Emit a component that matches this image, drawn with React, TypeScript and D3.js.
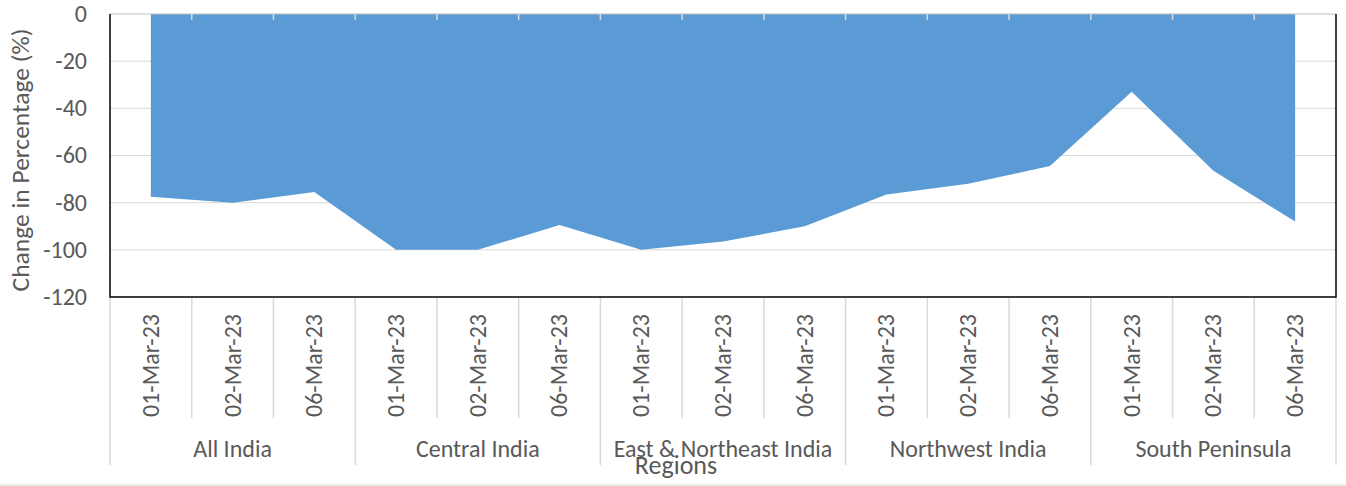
import React, { useRef, useEffect } from 'react';
import * as d3 from 'd3';

const regions: string[] = ['All India', 'Central India', 'East & Northeast India', 'Northwest India', 'South Peninsula'];
const dates: string[] = ['01-Mar-23', '02-Mar-23', '06-Mar-23'];
const changeValues: number[] = [
  -77.5, -80, -75.5,
  -100, -100, -89.5,
  -100, -96.5, -90,
  -76.5, -72, -64.5,
  -33, -66.5, -88
];
const yTicks: number[] = [0, -20, -40, -60, -80, -100, -120];

const W = 1346;
const H = 486;

const App: React.FC = () => {
  const svgRef = useRef<SVGSVGElement>(null);

  useEffect(() => {
    if (!svgRef.current) return;
    const svg = d3.select(svgRef.current);
    svg.selectAll('*').remove();

    const margin = { top: 14, right: 10, bottom: 189, left: 110 };
    const plotRight = W - margin.right;
    const plotBottom = H - margin.bottom;
    const font = 'Carlito, Calibri, "Open Sans", sans-serif';
    const textColor = '#595959';

    const cats = regions.flatMap(r => dates.map(d => `${r}|${d}`));
    const x = d3.scaleBand<string>().domain(cats).range([margin.left, plotRight]).padding(0);
    const y = d3.scaleLinear().domain([-120, 0]).range([plotBottom, margin.top]);
    const cx = (i: number) => (x(cats[i]) || 0) + x.bandwidth() / 2;

    // gridlines
    svg.append('g')
      .selectAll('line')
      .data(yTicks.filter(t => t !== 0 && t !== -120))
      .enter().append('line')
      .attr('x1', margin.left).attr('x2', plotRight)
      .attr('y1', d => y(d)).attr('y2', d => y(d))
      .attr('stroke', '#d9d9d9').attr('stroke-width', 1);

    // area
    const area = d3.area<number>()
      .x((_, i) => cx(i))
      .y0(() => y(0))
      .y1(d => y(d));
    svg.append('path')
      .datum(changeValues)
      .attr('d', area)
      .attr('fill', '#5B9BD5');

    // zero line (category axis) with ticks
    svg.append('line')
      .attr('x1', margin.left).attr('x2', plotRight)
      .attr('y1', y(0)).attr('y2', y(0))
      .attr('stroke', '#bfbfbf').attr('stroke-width', 1);
    svg.append('g')
      .selectAll('line')
      .data(d3.range(1, cats.length))
      .enter().append('line')
      .attr('x1', i => x(cats[i]) || 0).attr('x2', i => x(cats[i]) || 0)
      .attr('y1', y(0)).attr('y2', y(0) + 6)
      .attr('stroke', '#d9d9d9').attr('stroke-width', 1.5);

    // plot border: left, bottom, right
    svg.append('path')
      .attr('d', `M${margin.left},${y(0)}V${plotBottom}H${plotRight}V${y(0)}`)
      .attr('fill', 'none').attr('stroke', '#000').attr('stroke-width', 1.5);

    // y tick labels
    svg.append('g')
      .selectAll('text')
      .data(yTicks)
      .enter().append('text')
      .attr('x', 87).attr('y', d => y(d))
      .attr('dy', '0.33em')
      .attr('text-anchor', 'end')
      .attr('font-family', font).attr('font-size', 24)
      .attr('fill', textColor)
      .text(d => d.toString());

    // y axis title
    svg.append('text')
      .attr('transform', `translate(29,${(23 + plotBottom) / 2}) rotate(-90)`)
      .attr('text-anchor', 'middle')
      .attr('font-family', font).attr('font-size', 25.5)
      .attr('fill', textColor)
      .text('Change in Percentage (%)');

    // category separators below the plot
    const sepG = svg.append('g');
    d3.range(0, cats.length + 1).forEach(i => {
      const xx = i < cats.length ? (x(cats[i]) || 0) : plotRight;
      const isGroup = i % dates.length === 0;
      sepG.append('line')
        .attr('x1', xx).attr('x2', xx)
        .attr('y1', plotBottom + 1).attr('y2', isGroup ? 465 : 418)
        .attr('stroke', '#d9d9d9').attr('stroke-width', 1.5);
    });

    // date labels
    svg.append('g')
      .selectAll('text')
      .data(cats)
      .enter().append('text')
      .attr('transform', (_, i) => `translate(${cx(i)},314) rotate(-90)`)
      .attr('dy', '0.33em')
      .attr('text-anchor', 'end')
      .attr('font-family', font).attr('font-size', 24)
      .attr('fill', textColor)
      .text(d => d.split('|')[1]);

    // region labels
    svg.append('g')
      .selectAll('text')
      .data(regions)
      .enter().append('text')
      .attr('x', (_, i) => {
        const a = x(cats[i * dates.length]) || 0;
        const b = a + x.bandwidth() * dates.length;
        return (a + b) / 2;
      })
      .attr('y', 457)
      .attr('text-anchor', 'middle')
      .attr('font-family', font).attr('font-size', 24)
      .attr('fill', textColor)
      .text(d => d);

    // x axis title
    svg.append('text')
      .attr('x', 676).attr('y', 474)
      .attr('text-anchor', 'middle')
      .attr('font-family', font).attr('font-size', 26)
      .attr('fill', textColor)
      .text('Regions');

    // chart bottom border
    svg.append('line')
      .attr('x1', 0).attr('x2', W)
      .attr('y1', 485).attr('y2', 485)
      .attr('stroke', '#d9d9d9').attr('stroke-width', 1);
  }, []);

  return (
    <svg ref={svgRef} width={W} height={H}
      style={{ position: 'absolute', left: 0, top: 0, background: '#fff' }} />
  );
};

export default App;
